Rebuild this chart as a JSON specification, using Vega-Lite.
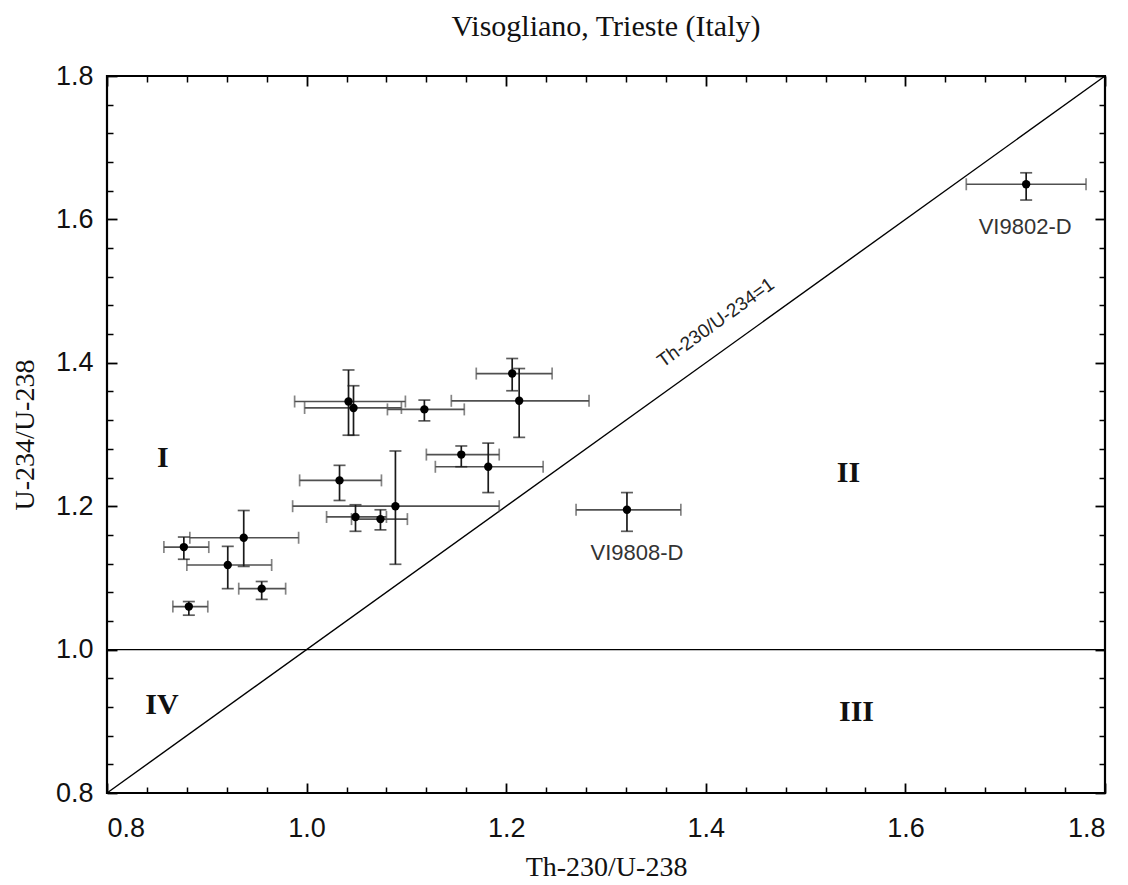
{
  "$schema": "https://vega.github.io/schema/vega-lite/v6.json",
  "width": 998,
  "height": 717,
  "autosize": {"type": "none"},
  "padding": {"left": 107, "top": 76, "right": 23, "bottom": 92},
  "title": {"text": "Visogliano, Trieste (Italy)", "font": "Liberation Serif", "fontSize": 30, "fontWeight": "normal", "color": "#111", "anchor": "middle", "offset": 20},
  "config": {
    "view": {"stroke": "black", "strokeWidth": 2.2},
    "axis": {"grid": false, "domain": false, "tickColor": "black", "labelColor": "#111", "titleColor": "#111", "labelFont": "Liberation Sans", "labelFontSize": 27, "titleFont": "Liberation Serif", "titleFontSize": 28, "titleFontWeight": "normal", "format": ".1f"}
  },
  "datasets": {
    "samples": [
      {"x": 1.042, "xlo": 0.988, "xhi": 1.099, "y": 1.346, "ylo": 1.299, "yhi": 1.390},
      {"x": 1.047, "xlo": 0.998, "xhi": 1.095, "y": 1.337, "ylo": 1.299, "yhi": 1.368},
      {"x": 1.118, "xlo": 1.081, "xhi": 1.158, "y": 1.335, "ylo": 1.319, "yhi": 1.348},
      {"x": 1.206, "xlo": 1.170, "xhi": 1.246, "y": 1.385, "ylo": 1.361, "yhi": 1.406},
      {"x": 1.213, "xlo": 1.145, "xhi": 1.283, "y": 1.347, "ylo": 1.296, "yhi": 1.392},
      {"x": 1.155, "xlo": 1.120, "xhi": 1.193, "y": 1.272, "ylo": 1.255, "yhi": 1.284},
      {"x": 1.182, "xlo": 1.129, "xhi": 1.237, "y": 1.255, "ylo": 1.219, "yhi": 1.288},
      {"x": 1.033, "xlo": 0.993, "xhi": 1.075, "y": 1.236, "ylo": 1.208, "yhi": 1.257},
      {"x": 1.089, "xlo": 0.986, "xhi": 1.193, "y": 1.200, "ylo": 1.119, "yhi": 1.277},
      {"x": 1.049, "xlo": 1.020, "xhi": 1.080, "y": 1.185, "ylo": 1.165, "yhi": 1.202},
      {"x": 1.074, "xlo": 1.045, "xhi": 1.101, "y": 1.182, "ylo": 1.167, "yhi": 1.195},
      {"x": 0.937, "xlo": 0.883, "xhi": 0.992, "y": 1.156, "ylo": 1.116, "yhi": 1.194},
      {"x": 0.877, "xlo": 0.857, "xhi": 0.902, "y": 1.143, "ylo": 1.126, "yhi": 1.157},
      {"x": 0.921, "xlo": 0.880, "xhi": 0.965, "y": 1.118, "ylo": 1.085, "yhi": 1.144},
      {"x": 0.955, "xlo": 0.932, "xhi": 0.979, "y": 1.085, "ylo": 1.070, "yhi": 1.095},
      {"x": 0.882, "xlo": 0.866, "xhi": 0.901, "y": 1.060, "ylo": 1.048, "yhi": 1.067},
      {"x": 1.321, "xlo": 1.270, "xhi": 1.375, "y": 1.195, "ylo": 1.165, "yhi": 1.219},
      {"x": 1.721, "xlo": 1.661, "xhi": 1.781, "y": 1.649, "ylo": 1.627, "yhi": 1.665}
    ],
    "diag": [{"v": 0.8}, {"v": 1.8}],
    "hline": [{"v": 1.0}],
    "regions": [
      {"x": 0.856, "y": 1.267, "t": "I"},
      {"x": 1.543, "y": 1.246, "t": "II"},
      {"x": 1.551, "y": 0.913, "t": "III"},
      {"x": 0.855, "y": 0.923, "t": "IV"}
    ],
    "names": [
      {"x": 1.331, "y": 1.135, "t": "VI9808-D"},
      {"x": 1.720, "y": 1.589, "t": "VI9802-D"}
    ],
    "linelabel": [{"x": 1.410, "y": 1.456, "t": "Th-230/U-234=1"}]
  },
  "layer": [
    {
      "data": {"name": "diag"},
      "mark": {"type": "line", "color": "black", "strokeWidth": 1.4},
      "encoding": {
        "x": {"field": "v", "type": "quantitative", "scale": {"domain": [0.8, 1.8], "nice": false, "zero": false},
              "axis": {"orient": "bottom", "title": "Th-230/U-238", "values": [0.8, 1.0, 1.2, 1.4, 1.6, 1.8], "tickSize": -10, "tickWidth": 1.8, "labelPadding": 32, "titlePadding": 12}},
        "y": {"field": "v", "type": "quantitative", "scale": {"domain": [0.8, 1.8], "nice": false, "zero": false},
              "axis": {"orient": "left", "title": "U-234/U-238", "values": [0.8, 1.0, 1.2, 1.4, 1.6, 1.8], "tickSize": -10, "tickWidth": 1.8, "labelPadding": 24, "titlePadding": 16}}
      }
    },
    {
      "data": {"name": "samples"},
      "mark": {"type": "rule", "color": "#505050", "strokeWidth": 1.7},
      "encoding": {
        "x": {"field": "xlo", "type": "quantitative",
              "axis": {"orient": "bottom", "title": null, "labels": false, "values": [0.84, 0.88, 0.92, 0.96, 1.04, 1.08, 1.12, 1.16, 1.24, 1.28, 1.32, 1.36, 1.44, 1.48, 1.52, 1.56, 1.64, 1.68, 1.72, 1.76], "tickSize": -6, "tickWidth": 1.5}},
        "x2": {"field": "xhi"},
        "y": {"field": "y", "type": "quantitative",
              "axis": {"orient": "right", "title": null, "labels": false, "values": [0.8, 1.0, 1.2, 1.4, 1.6, 1.8], "tickSize": -10, "tickWidth": 1.8}}
      }
    },
    {
      "data": {"name": "samples"},
      "mark": {"type": "rule", "color": "#1a1a1a", "strokeWidth": 1.7},
      "encoding": {
        "x": {"field": "x", "type": "quantitative",
              "axis": {"orient": "top", "title": null, "labels": false, "values": [0.8, 1.0, 1.2, 1.4, 1.6, 1.8], "tickSize": -10, "tickWidth": 1.8}},
        "y": {"field": "ylo", "type": "quantitative",
              "axis": {"orient": "left", "title": null, "labels": false, "values": [0.84, 0.88, 0.92, 0.96, 1.04, 1.08, 1.12, 1.16, 1.24, 1.28, 1.32, 1.36, 1.44, 1.48, 1.52, 1.56, 1.64, 1.68, 1.72, 1.76], "tickSize": -6, "tickWidth": 1.5}},
        "y2": {"field": "yhi"}
      }
    },
    {
      "data": {"name": "samples"},
      "mark": {"type": "tick", "orient": "vertical", "color": "#505050", "size": 12, "thickness": 1.7},
      "encoding": {
        "x": {"field": "xlo", "type": "quantitative",
              "axis": {"orient": "top", "title": null, "labels": false, "values": [0.84, 0.88, 0.92, 0.96, 1.04, 1.08, 1.12, 1.16, 1.24, 1.28, 1.32, 1.36, 1.44, 1.48, 1.52, 1.56, 1.64, 1.68, 1.72, 1.76], "tickSize": -6, "tickWidth": 1.5}},
        "y": {"field": "y", "type": "quantitative",
              "axis": {"orient": "right", "title": null, "labels": false, "values": [0.84, 0.88, 0.92, 0.96, 1.04, 1.08, 1.12, 1.16, 1.24, 1.28, 1.32, 1.36, 1.44, 1.48, 1.52, 1.56, 1.64, 1.68, 1.72, 1.76], "tickSize": -6, "tickWidth": 1.5}}
      }
    },
    {
      "data": {"name": "samples"},
      "mark": {"type": "tick", "orient": "vertical", "color": "#505050", "size": 12, "thickness": 1.7},
      "encoding": {
        "x": {"field": "xhi", "type": "quantitative", "axis": null},
        "y": {"field": "y", "type": "quantitative", "axis": null}
      }
    },
    {
      "data": {"name": "samples"},
      "mark": {"type": "tick", "orient": "horizontal", "color": "#1a1a1a", "size": 12, "thickness": 1.7},
      "encoding": {
        "x": {"field": "x", "type": "quantitative", "axis": null},
        "y": {"field": "ylo", "type": "quantitative", "axis": null}
      }
    },
    {
      "data": {"name": "samples"},
      "mark": {"type": "tick", "orient": "horizontal", "color": "#1a1a1a", "size": 12, "thickness": 1.7},
      "encoding": {
        "x": {"field": "x", "type": "quantitative", "axis": null},
        "y": {"field": "yhi", "type": "quantitative", "axis": null}
      }
    },
    {
      "data": {"name": "samples"},
      "mark": {"type": "circle", "color": "black", "opacity": 1, "size": 70},
      "encoding": {
        "x": {"field": "x", "type": "quantitative", "axis": null},
        "y": {"field": "y", "type": "quantitative", "axis": null}
      }
    },
    {
      "data": {"name": "hline"},
      "mark": {"type": "rule", "color": "black", "strokeWidth": 1.4},
      "encoding": {
        "y": {"field": "v", "type": "quantitative", "axis": null}
      }
    },
    {
      "data": {"name": "regions"},
      "mark": {"type": "text", "font": "Liberation Serif", "fontWeight": "bold", "fontSize": 30, "color": "#111"},
      "encoding": {
        "x": {"field": "x", "type": "quantitative", "axis": null},
        "y": {"field": "y", "type": "quantitative", "axis": null},
        "text": {"field": "t"}
      }
    },
    {
      "data": {"name": "names"},
      "mark": {"type": "text", "font": "Liberation Sans", "fontSize": 22, "color": "#333"},
      "encoding": {
        "x": {"field": "x", "type": "quantitative", "axis": null},
        "y": {"field": "y", "type": "quantitative", "axis": null},
        "text": {"field": "t"}
      }
    },
    {
      "data": {"name": "linelabel"},
      "mark": {"type": "text", "font": "Liberation Sans", "fontSize": 19, "color": "#222", "angle": 324.3},
      "encoding": {
        "x": {"field": "x", "type": "quantitative", "axis": null},
        "y": {"field": "y", "type": "quantitative", "axis": null},
        "text": {"field": "t"}
      }
    }
  ],
  "resolve": {"axis": {"x": "independent", "y": "independent"}}
}
